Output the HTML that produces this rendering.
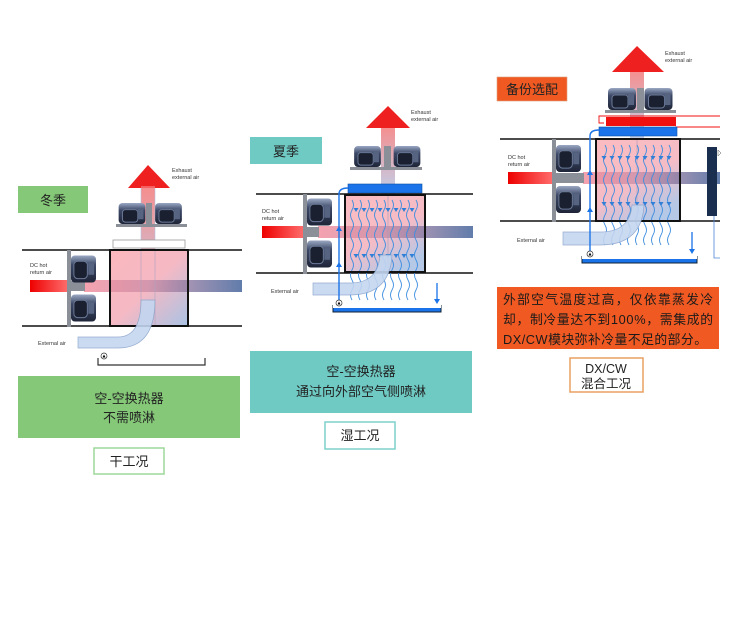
<!DOCTYPE html>
<html><head><meta charset="utf-8"><style>
html,body{margin:0;padding:0;background:#fff;width:750px;height:630px;overflow:hidden}
svg{display:block}
.cj{font-family:"Liberation Sans","Noto Sans CJK SC",sans-serif}
.sm{font-family:"Liberation Sans",sans-serif;font-size:5.5px;fill:#333}
</style></head><body>
<svg width="750" height="630" viewBox="0 0 750 630" xmlns="http://www.w3.org/2000/svg">
<defs>
<linearGradient id="fg" x1="0" y1="0" x2="0" y2="1"><stop offset="0" stop-color="#9aa8c4"/><stop offset="0.35" stop-color="#3c4866"/><stop offset="1" stop-color="#1f2538"/></linearGradient>
<symbol id="fan" viewBox="0 0 28 22" width="28" height="22"><rect x="0" y="0" width="28" height="22" rx="4" fill="url(#fg)"/><rect x="4" y="7" width="16" height="13" rx="3" fill="#1a2030" stroke="#6b7a98" stroke-width="1"/><rect x="20" y="6" width="6" height="11" fill="#566482"/></symbol>
<symbol id="fanv" viewBox="0 0 26 28" width="26" height="28"><rect x="0" y="0" width="26" height="28" rx="4" fill="url(#fg)"/><rect x="3" y="6" width="14" height="18" rx="4" fill="#1a2030" stroke="#6b7a98"/><rect x="18" y="8" width="6" height="12" fill="#566482"/></symbol>
<linearGradient id="red" x1="0" x2="1"><stop offset="0" stop-color="#ee0000"/><stop offset="1" stop-color="#ff6a6a"/></linearGradient>
<linearGradient id="pb" x1="0" x2="1"><stop offset="0" stop-color="#f28a9a"/><stop offset="0.4" stop-color="#cc8fa8"/><stop offset="1" stop-color="#3a5c96"/></linearGradient>
<linearGradient id="box" x1="0" y1="0" x2="1" y2="1"><stop offset="0" stop-color="#fbb7bd"/><stop offset="0.5" stop-color="#f5b9c4"/><stop offset="1" stop-color="#a9c3e4"/></linearGradient>
<linearGradient id="box2" x1="0" y1="0" x2="0.6" y2="1"><stop offset="0" stop-color="#fbbcc0"/><stop offset="0.6" stop-color="#f5bcc6"/><stop offset="1" stop-color="#b5c8e6"/></linearGradient>
<linearGradient id="sh" x1="0" y1="1" x2="0" y2="0"><stop offset="0" stop-color="#b6c8e6"/><stop offset="1" stop-color="#f47a7a"/></linearGradient>
<path id="wave" d="M0,0 q3,5 0,10 t0,10 t0,10 t0,10 t0,10 t0,10 t0,10 t0,10 t0,10 t0,10" fill="none" stroke="#3d8de0" stroke-width="0.9"/>
<path id="drop" d="M-2.5,0 h5 l-2.5,4z" fill="#2f7fd8"/>
</defs>

<!-- ============ PANEL 1 ============ -->
<rect x="18" y="186" width="70" height="27" fill="#85c878"/>
<text x="53" y="205" class="cj" font-size="13" text-anchor="middle" fill="#222">冬季</text>
<!-- exhaust shaft -->
<rect x="141" y="186" width="14" height="120" fill="url(#sh)" opacity="0.85" stroke="#a8b8d8" stroke-width="0.6"/>
<polygon points="128,188 148,165 170,188" fill="#ee2020"/>
<rect x="141" y="186" width="14" height="2" fill="#f56060"/>
<use href="#fan" x="118" y="203" width="28" height="21"/>
<use href="#fan" x="153" y="203" width="31" height="21"/>
<rect x="146" y="203" width="6" height="22" fill="#8a8f98"/>
<rect x="116" y="224" width="71" height="3" fill="#8a8f98"/>
<rect x="113" y="240" width="72" height="8" fill="#fff" stroke="#999" stroke-width="0.8"/>
<text class="sm" x="172" y="172">Exhaust</text><text class="sm" x="172" y="179">external air</text>
<!-- duct -->
<line x1="22" y1="250" x2="242" y2="250" stroke="#111" stroke-width="1.4"/>
<line x1="22" y1="326" x2="242" y2="326" stroke="#111" stroke-width="1.4"/>
<rect x="30" y="280" width="37" height="12" fill="url(#red)"/>
<rect x="110" y="250" width="78" height="76" fill="url(#box)"/>
<rect x="84" y="280" width="158" height="12" fill="url(#pb)" opacity="0.8"/>
<rect x="141" y="250" width="14" height="76" fill="none" stroke="#b0a0c0" stroke-width="0.6"/>
<rect x="110" y="250" width="78" height="76" fill="none" stroke="#111" stroke-width="2"/>
<rect x="67" y="250" width="4" height="77" fill="#8a8f98"/>
<rect x="71" y="281" width="14" height="10" fill="#8a8f98"/>
<use href="#fanv" x="71" y="255" width="25" height="28"/>
<use href="#fanv" x="71" y="294" width="25" height="28"/>
<text class="sm" x="30" y="267">DC hot</text><text class="sm" x="30" y="274">return air</text>
<!-- external air curve -->
<path d="M78,337 H118 Q141,337 141,300 H155 Q155,348 118,348 H78 Z" fill="#c4d6f0" stroke="#8aa4cc" stroke-width="0.7" opacity="0.9"/>
<text class="sm" x="38" y="345">External air</text>
<path d="M98,358 v7 h107 v-7" fill="none" stroke="#333" stroke-width="1.2"/>
<circle cx="104" cy="356" r="3" fill="#fff" stroke="#333" stroke-width="0.7"/><path d="M102.5,357.5 l1.5,-3 l1.5,3z" fill="#000"/>
<rect x="18" y="376" width="222" height="62" fill="#85c878"/>
<text x="129" y="403" class="cj" font-size="13" text-anchor="middle" fill="#222">空-空换热器</text>
<text x="129" y="422" class="cj" font-size="13" text-anchor="middle" fill="#222">不需喷淋</text>
<rect x="94" y="448" width="70" height="26" fill="#fff" stroke="#9ed89a" stroke-width="1.5"/>
<text x="129" y="466" class="cj" font-size="13" text-anchor="middle" fill="#222">干工况</text>

<!-- ============ PANEL 2 ============ -->
<rect x="250" y="137" width="72" height="27" fill="#6fcac4"/>
<text x="286" y="156" class="cj" font-size="13" text-anchor="middle" fill="#222">夏季</text>
<rect x="381" y="126" width="14" height="68" fill="url(#sh)" opacity="0.85"/>
<polygon points="366,128 388,106 410,128" fill="#ee2020"/>
<use href="#fan" x="352" y="146" width="31" height="21"/>
<use href="#fan" x="393" y="146" width="28" height="21"/>
<rect x="384" y="146" width="7" height="22" fill="#8a8f98"/>
<rect x="350" y="167" width="72" height="3" fill="#8a8f98"/>
<text class="sm" x="411" y="114">Exhaust</text><text class="sm" x="411" y="121">external air</text>
<rect x="348" y="184" width="74" height="9" fill="#1a73e8" stroke="#0d4fa8" stroke-width="0.6"/>
<line x1="256" y1="194" x2="473" y2="194" stroke="#111" stroke-width="1.4"/>
<line x1="256" y1="273" x2="473" y2="273" stroke="#111" stroke-width="1.4"/>
<rect x="262" y="226" width="41" height="12" fill="url(#red)"/>
<rect x="345" y="195" width="80" height="77" fill="url(#box2)"/>
<rect x="318" y="226" width="155" height="12" fill="url(#pb)" opacity="0.8"/>
<line x1="388" y1="195" x2="388" y2="272" stroke="#a79ab8" stroke-width="0.6"/>
<g>
<use href="#wave" x="352" y="200"/><use href="#wave" x="360" y="200"/><use href="#wave" x="368" y="200"/><use href="#wave" x="376" y="200"/><use href="#wave" x="384" y="200"/><use href="#wave" x="392" y="200"/><use href="#wave" x="400" y="200"/><use href="#wave" x="408" y="200"/><use href="#wave" x="416" y="200"/>
<use href="#drop" x="356" y="208"/><use href="#drop" x="364" y="208"/><use href="#drop" x="372" y="208"/><use href="#drop" x="380" y="208"/><use href="#drop" x="388" y="208"/><use href="#drop" x="396" y="208"/><use href="#drop" x="404" y="208"/><use href="#drop" x="412" y="208"/>
<use href="#drop" x="356" y="254"/><use href="#drop" x="364" y="254"/><use href="#drop" x="372" y="254"/><use href="#drop" x="380" y="254"/><use href="#drop" x="388" y="254"/><use href="#drop" x="396" y="254"/><use href="#drop" x="404" y="254"/><use href="#drop" x="412" y="254"/>
</g>
<rect x="345" y="195" width="80" height="77" fill="none" stroke="#111" stroke-width="2"/>
<rect x="303" y="194" width="4" height="80" fill="#8a8f98"/>
<rect x="307" y="227" width="12" height="10" fill="#8a8f98"/>
<use href="#fanv" x="307" y="198" width="25" height="28"/>
<use href="#fanv" x="307" y="240" width="25" height="28"/>
<text class="sm" x="262" y="213">DC hot</text><text class="sm" x="262" y="220">return air</text>
<path d="M313,283 H350 Q378,283 380,255 H392 Q390,295 350,295 H313 Z" fill="#c4d6f0" stroke="#8aa4cc" stroke-width="0.7" opacity="0.9"/>
<text class="sm" x="271" y="293">External air</text>
<path d="M339,302 V194 Q339,188 348,188" fill="none" stroke="#1a73e8" stroke-width="1.4"/>
<path d="M336,231 l3,-5 l3,5z M336,267 l3,-5 l3,5z" fill="#1a73e8"/>
<line x1="437" y1="283" x2="437" y2="302" stroke="#1a73e8" stroke-width="1.3"/><path d="M434,299 l3,5 l3,-5z" fill="#1a73e8"/>
<path d="M333,305 v7 h108 v-7" fill="#1a73e8" stroke="#123" stroke-width="1"/>
<rect x="333" y="305" width="108" height="3" fill="#fff"/>
<circle cx="339" cy="303" r="3" fill="#fff" stroke="#333" stroke-width="0.7"/><path d="M337.5,304.5 l1.5,-3 l1.5,3z" fill="#000"/>
<rect x="250" y="351" width="222" height="62" fill="#6fcac4"/>
<text x="361" y="376" class="cj" font-size="13" text-anchor="middle" fill="#222">空-空换热器</text>
<text x="361" y="396" class="cj" font-size="13" text-anchor="middle" fill="#222">通过向外部空气侧喷淋</text>
<rect x="325" y="422" width="70" height="27" fill="#fff" stroke="#7fd0cb" stroke-width="1.5"/>
<text x="360" y="440" class="cj" font-size="13" text-anchor="middle" fill="#222">湿工况</text>

<!-- ============ PANEL 3 ============ -->
<rect x="497" y="77" width="70" height="24" fill="#f05a22" stroke="#d9a080" stroke-width="0.6"/>
<text x="532" y="94" class="cj" font-size="13" text-anchor="middle" fill="#222">备份选配</text>
<rect x="630" y="70" width="14" height="70" fill="url(#sh)" opacity="0.85"/>
<polygon points="612,72 637,46 664,72" fill="#ee2020"/>
<use href="#fan" x="607" y="88" width="30" height="22"/>
<use href="#fan" x="644" y="88" width="29" height="22"/>
<rect x="637" y="88" width="7" height="23" fill="#8a8f98"/>
<rect x="605" y="110" width="71" height="3" fill="#8a8f98"/>
<text class="sm" x="665" y="55">Exhaust</text><text class="sm" x="665" y="62">external air</text>
<path d="M720,116 H599 V123 H604" fill="none" stroke="#f01010" stroke-width="0.9"/>
<path d="M675,127 H720" stroke="#f01010" stroke-width="0.9"/>
<rect x="606" y="117" width="70" height="9" fill="#f01010"/>
<rect x="599" y="127" width="78" height="9" fill="#1a73e8" stroke="#0d4fa8" stroke-width="0.6"/>
<line x1="500" y1="139" x2="720" y2="139" stroke="#111" stroke-width="1.4"/>
<line x1="500" y1="221" x2="720" y2="221" stroke="#111" stroke-width="1.4"/>
<rect x="508" y="172" width="44" height="12" fill="url(#red)"/>
<rect x="596" y="139" width="84" height="82" fill="url(#box2)"/>
<rect x="583" y="172" width="137" height="12" fill="url(#pb)" opacity="0.8"/>
<line x1="637" y1="139" x2="637" y2="221" stroke="#a79ab8" stroke-width="0.6"/>
<g>
<use href="#wave" x="605" y="145"/><use href="#wave" x="613" y="145"/><use href="#wave" x="621" y="145"/><use href="#wave" x="629" y="145"/><use href="#wave" x="637" y="145"/><use href="#wave" x="645" y="145"/><use href="#wave" x="653" y="145"/><use href="#wave" x="661" y="145"/><use href="#wave" x="669" y="145"/>
<use href="#drop" x="604" y="156"/><use href="#drop" x="612" y="156"/><use href="#drop" x="620" y="156"/><use href="#drop" x="628" y="156"/><use href="#drop" x="637" y="156"/><use href="#drop" x="645" y="156"/><use href="#drop" x="653" y="156"/><use href="#drop" x="661" y="156"/><use href="#drop" x="669" y="156"/>
<use href="#drop" x="604" y="202"/><use href="#drop" x="612" y="202"/><use href="#drop" x="620" y="202"/><use href="#drop" x="628" y="202"/><use href="#drop" x="637" y="202"/><use href="#drop" x="645" y="202"/><use href="#drop" x="653" y="202"/><use href="#drop" x="661" y="202"/><use href="#drop" x="669" y="202"/>
</g>
<rect x="596" y="139" width="84" height="82" fill="none" stroke="#111" stroke-width="2"/>
<rect x="552" y="139" width="4" height="83" fill="#8a8f98"/>
<rect x="556" y="173" width="28" height="10" fill="#8a8f98"/>
<use href="#fanv" x="556" y="144" width="25" height="29"/>
<use href="#fanv" x="556" y="185" width="25" height="29"/>
<text class="sm" x="508" y="159">DC hot</text><text class="sm" x="508" y="166">return air</text>
<path d="M563,232 H600 Q630,232 632,205 H644 Q642,245 600,245 H563 Z" fill="#c4d6f0" stroke="#8aa4cc" stroke-width="0.7" opacity="0.9"/>
<text class="sm" x="517" y="242">External air</text>
<path d="M590,253 V136 Q590,130 599,130" fill="none" stroke="#1a73e8" stroke-width="1.4"/>
<path d="M587,175 l3,-5 l3,5z M587,212 l3,-5 l3,5z" fill="#1a73e8"/>
<line x1="692" y1="232" x2="692" y2="252" stroke="#1a73e8" stroke-width="1.3"/><path d="M689,249 l3,5 l3,-5z" fill="#1a73e8"/>
<path d="M582,256 v7 h115 v-7" fill="#1a73e8" stroke="#123" stroke-width="1"/>
<rect x="582" y="256" width="115" height="3" fill="#fff"/>
<circle cx="590" cy="254" r="3" fill="#fff" stroke="#333" stroke-width="0.7"/><path d="M588.5,255.5 l1.5,-3 l1.5,3z" fill="#000"/>
<rect x="707" y="147" width="10" height="69" fill="#1a2f4f"/>
<path d="M718,150 l3,3 l-3,3z" fill="#fff" stroke="#555" stroke-width="0.5"/>
<path d="M714,216 V258 H720" fill="none" stroke="#4f86d8" stroke-width="0.8"/>
<rect x="497" y="287" width="222" height="62" fill="#f05a22"/>
<text x="503" y="304" class="cj" font-size="12.8" fill="#1a1a1a" textLength="210">外部空气温度过高，仅依靠蒸发冷</text>
<text x="503" y="324" class="cj" font-size="12.8" fill="#1a1a1a" textLength="210">却，制冷量达不到100%，需集成的</text>
<text x="503" y="344" class="cj" font-size="12.8" fill="#1a1a1a" textLength="204">DX/CW模块弥补冷量不足的部分。</text>
<rect x="570" y="358" width="73" height="34" fill="#fff" stroke="#e8a060" stroke-width="1.5"/>
<text x="606" y="373" class="cj" font-size="12.5" text-anchor="middle" fill="#222">DX/CW</text>
<text x="606" y="388" class="cj" font-size="12.5" text-anchor="middle" fill="#222">混合工况</text>
</svg>
</body></html>
